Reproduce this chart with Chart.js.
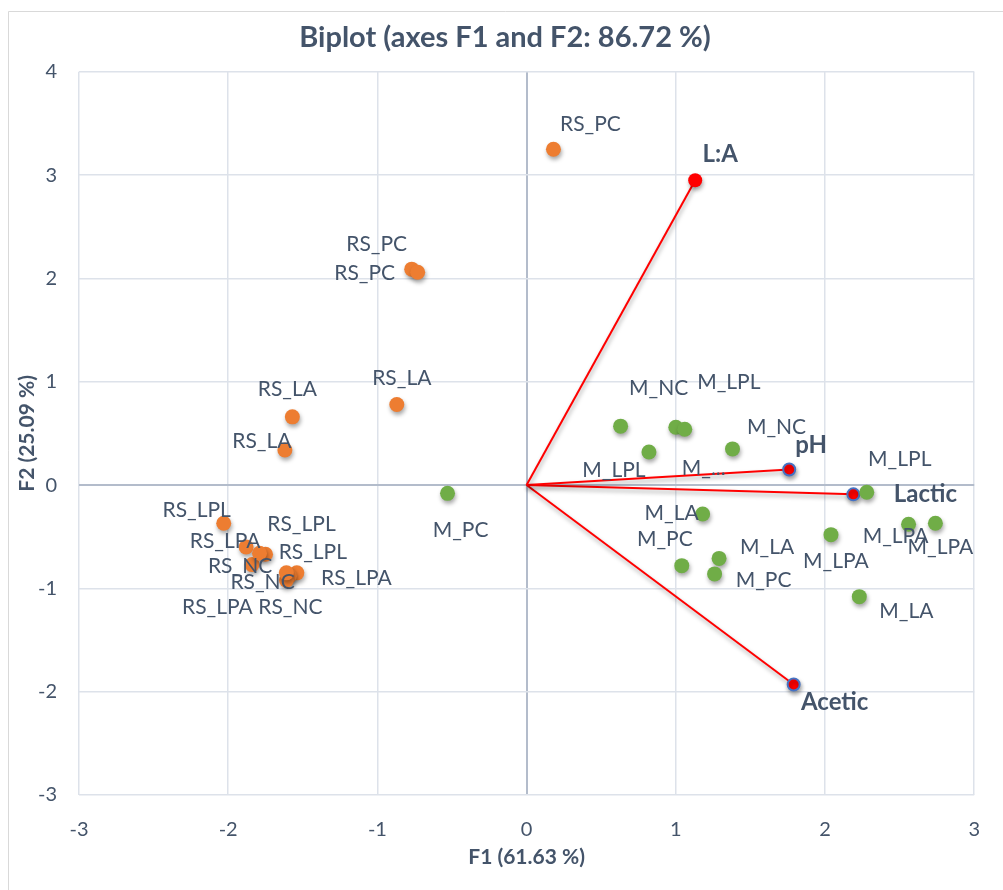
<!DOCTYPE html>
<html>
<head>
<meta charset="utf-8">
<script src="https://cdn.jsdelivr.net/npm/chart.js"></script>
<style>
  html, body { margin: 0; padding: 0; background: #fff; }
  #wrap { width: 1003px; height: 890px; }
</style>
</head>
<body>
<div id="wrap"><canvas id="c" width="1003" height="890"></canvas></div>
<script>
// observations (F1, F2)
const rsNames = ['RS_PC', 'RS_PC', 'RS_PC', 'RS_LA', 'RS_LA', 'RS_LA',
  'RS_LPL', 'RS_LPL', 'RS_LPA', 'RS_LPL', 'RS_NC', 'RS_LPA', 'RS_NC', 'RS_LPA', 'RS_NC'];
const rsF1 = [0.18, -0.77, -0.73, -0.87, -1.57, -1.62,
  -2.03, -1.75, -1.88, -1.54, -1.84, -1.59, -1.79, -1.61, -1.61];
const rsF2 = [3.25, 2.09, 2.06, 0.78, 0.66, 0.34,
  -0.37, -0.67, -0.60, -0.85, -0.77, -0.88, -0.66, -0.92, -0.85];

const mNames = ['M_PC', 'M_NC', 'M_LPL', 'M_...', 'M_LPL', 'M_NC', 'M_LPL', 'M_LA',
  'M_PC', 'M_LA', 'M_PC', 'M_LPA', 'M_LPA', 'M_LPA', 'M_LA'];
const mF1 = [-0.53, 0.63, 1.00, 1.06, 0.82, 1.38, 2.28, 1.18,
  1.04, 1.29, 1.26, 2.04, 2.56, 2.74, 2.23];
const mF2 = [-0.08, 0.57, 0.56, 0.54, 0.32, 0.35, -0.07, -0.28,
  -0.78, -0.71, -0.86, -0.48, -0.38, -0.37, -1.08];

// variables (loadings)
const varNames = ['L:A', 'pH', 'Lactic', 'Acetic'];
const varF1 = [1.13, 1.76, 2.19, 1.79];
const varF2 = [2.95, 0.15, -0.09, -1.93];

// label nudges in px (layout only)
const rsNudge = [[37, -25], [-35, -25], [-53, 1], [5, -26], [-5, -28], [-23, -9],
  [-27, -13], [36, -30], [-21, -6], [16, -21], [-12, 2], [67, 2], [3, 29], [-69, 27], [4, 34]];
const mNudge = [[13, 37], [38, -38], [53, -45], [19, 39], [-35, 18], [44, -22], [33, -33], [-31, -1],
  [-17, -26], [48, -11], [49, 6], [5, 27], [-13, 12], [5, 24], [47, 15]];
const varNudge = [[25, -26], [22, -24], [72, 0], [41, 18]];

const TXT = '#44546A';
const GRID = '#DDE2EA';
const ZERO = '#B3BCCB';

const pts = (xs, ys) => xs.map((x, i) => ({ x: x, y: ys[i] }));

const vecSets = varNames.map((n, i) => ({
  label: n,
  type: 'line',
  data: [{ x: 0, y: 0 }, { x: varF1[i], y: varF2[i] }],
  borderColor: '#FF0000',
  borderWidth: 2,
  pointRadius: [0, i === 0 ? 7 : 6],
  pointBackgroundColor: '#FF0000',
  pointBorderColor: i === 0 ? '#FF0000' : '#4472C4',
  pointBorderWidth: i === 0 ? 0 : 2,
  fill: false,
  order: 3,
  names: ['', n],
  nudge: [[0, 0], varNudge[i]],
  bold: true
}));

const bg = {
  id: 'bg',
  afterLayout(chart) {
    // title is centred a bit right of the canvas middle
    if (chart.titleBlock) chart.titleBlock.left = 34;
  },
  beforeDraw(chart) {
    const ctx = chart.ctx;
    ctx.save();
    ctx.fillStyle = '#fff';
    ctx.fillRect(0, 0, chart.width, chart.height);
    ctx.strokeStyle = '#D9D9D9';
    ctx.lineWidth = 1;
    ctx.beginPath();
    ctx.moveTo(8.5, chart.height);
    ctx.lineTo(8.5, 11.5);
    ctx.lineTo(chart.width, 11.5);
    ctx.stroke();
    ctx.restore();
  }
};

const shadow = {
  id: 'shadow',
  beforeDatasetsDraw(chart) {
    const ctx = chart.ctx;
    ctx.save();
    ctx.shadowColor = 'rgba(0,0,0,0.35)';
    ctx.shadowBlur = 4;
    ctx.shadowOffsetX = 1;
    ctx.shadowOffsetY = 3;
  },
  afterDatasetsDraw(chart) {
    chart.ctx.restore();
  }
};

const labels = {
  id: 'labels',
  afterDatasetsDraw(chart) {
    const ctx = chart.ctx;
    ctx.save();
    ctx.fillStyle = TXT;
    ctx.textAlign = 'center';
    ctx.textBaseline = 'middle';
    chart.data.datasets.forEach((ds, di) => {
      const meta = chart.getDatasetMeta(di);
      ctx.font = ds.bold ? 'bold 24px Lato' : '21px Lato';
      meta.data.forEach((el, j) => {
        const t = ds.names[j];
        if (!t) return;
        const n = ds.nudge[j];
        ctx.fillText(t, el.x + n[0], el.y + n[1]);
      });
    });
    ctx.restore();
  }
};

function build() {
  new Chart(document.getElementById('c'), {
    type: 'scatter',
    data: {
      datasets: [
        {
          label: 'RS',
          data: pts(rsF1, rsF2),
          backgroundColor: '#ED7D31',
          borderWidth: 0,
          pointRadius: 7.5,
          order: 1,
          names: rsNames,
          nudge: rsNudge
        },
        {
          label: 'M',
          data: pts(mF1, mF2),
          backgroundColor: '#70AD47',
          borderWidth: 0,
          pointRadius: 7.5,
          order: 2,
          names: mNames,
          nudge: mNudge
        }
      ].concat(vecSets)
    },
    options: {
      responsive: false,
      animation: false,
      layout: { padding: { left: 0, right: 27, top: 0, bottom: 0 } },
      plugins: {
        legend: { display: false },
        tooltip: { enabled: false },
        title: {
          display: true,
          text: 'Biplot (axes F1 and F2: 86.72 %)',
          color: TXT,
          font: { family: 'Lato', size: 29, weight: 'bold', lineHeight: 1.2 },
          padding: { top: 20, bottom: 17 }
        }
      },
      scales: {
        x: {
          type: 'linear',
          min: -3, max: 3,
          ticks: { stepSize: 1, color: TXT, font: { family: 'Lato', size: 20 }, padding: 23 },
          grid: {
            drawTicks: false,
            color: c => c.tick && c.tick.value === 0 ? ZERO : GRID,
            lineWidth: c => c.tick && c.tick.value === 0 ? 2 : 1.5
          },
          border: { display: false },
          title: {
            display: true, text: 'F1 (61.63 %)', color: TXT,
            font: { family: 'Lato', size: 21, weight: 'bold', lineHeight: 1.2 },
            padding: { top: 0, bottom: 20 }
          },
          afterFit(s) { s.height = 95; }
        },
        y: {
          type: 'linear',
          min: -3, max: 4,
          ticks: { stepSize: 1, color: TXT, font: { family: 'Lato', size: 20 }, padding: 22 },
          grid: {
            drawTicks: false,
            color: c => c.tick && c.tick.value === 0 ? ZERO : GRID,
            lineWidth: c => c.tick && c.tick.value === 0 ? 2 : 1.5
          },
          border: { display: false },
          title: {
            display: true, text: 'F2 (25.09 %)', color: TXT,
            font: { family: 'Lato', size: 21, weight: 'bold', lineHeight: 1.2 },
            padding: { top: 15, bottom: 0 }
          },
          afterFit(s) { s.width = 79; }
        }
      }
    },
    plugins: [bg, shadow, labels]
  });
}

if (document.fonts && document.fonts.load) {
  Promise.all([
    document.fonts.load('20px Lato'),
    document.fonts.load('bold 20px Lato')
  ]).then(build, build);
} else {
  build();
}
</script>
</body>
</html>
